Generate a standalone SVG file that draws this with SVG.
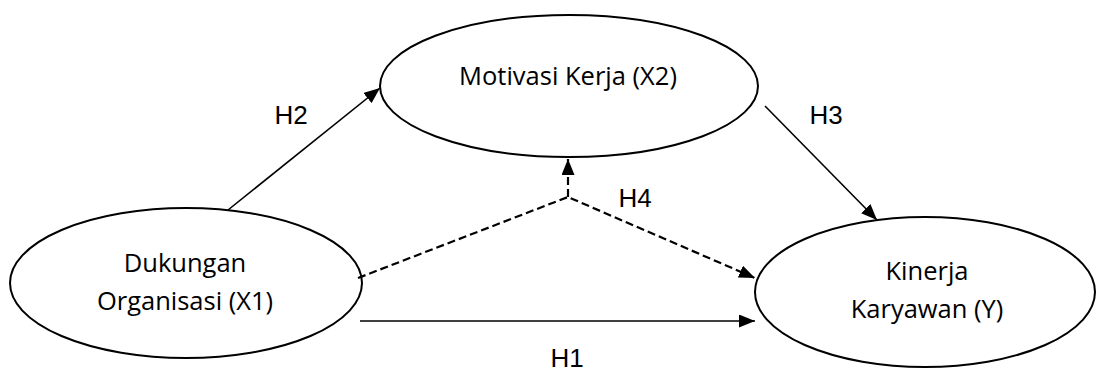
<svg xmlns="http://www.w3.org/2000/svg" width="1097" height="372" viewBox="0 0 1097 372">
<style>
.node ellipse{fill:#fff;stroke:#000;stroke-width:2}
.node text{font-family:"Open Sans","Noto Sans",sans-serif;font-size:25.5px;fill:#000;text-anchor:middle}
.lbl{font-family:"Liberation Sans",Arial,sans-serif;font-size:26px;fill:#000;text-anchor:middle}
.edge{stroke:#000;stroke-width:1.6;fill:none}
.dash{stroke:#000;stroke-width:2.2;fill:none;stroke-dasharray:8 4}
</style>
<defs>
<marker id="arr" markerUnits="userSpaceOnUse" markerWidth="17" markerHeight="13" refX="16" refY="6.5" orient="auto">
<path d="M0,0 L16,6.5 L0,13 z" fill="#000"/>
</marker>
</defs>
<rect width="1097" height="372" fill="#fff"/>
<g id="x2" class="node">
<ellipse cx="569" cy="86" rx="189" ry="71"/>
<text x="568" y="85">Motivasi Kerja (X2)</text>
</g>
<g id="x1" class="node">
<ellipse cx="186" cy="283" rx="176" ry="75"/>
<text x="185" y="272">Dukungan</text>
<text x="185" y="310">Organisasi (X1)</text>
</g>
<g id="y" class="node">
<ellipse cx="925" cy="292" rx="170" ry="75"/>
<text x="927" y="280">Kinerja</text>
<text x="927" y="318">Karyawan (Y)</text>
</g>
<g id="connectors">
<line class="edge" x1="228" y1="210" x2="380" y2="88" marker-end="url(#arr)"/>
<line class="edge" x1="765" y1="106" x2="877" y2="220" marker-end="url(#arr)"/>
<line class="edge" x1="360" y1="321" x2="755" y2="321" marker-end="url(#arr)"/>
<polyline class="dash" points="358,278 568,197 755,278" marker-end="url(#arr)"/>
<line class="dash" x1="568" y1="197" x2="568" y2="159" marker-end="url(#arr)"/>
</g>
<g id="labels">
<text class="lbl" x="291" y="124">H2</text>
<text class="lbl" x="826" y="124">H3</text>
<text class="lbl" x="635" y="207">H4</text>
<text class="lbl" x="567" y="367">H1</text>
</g>
</svg>
